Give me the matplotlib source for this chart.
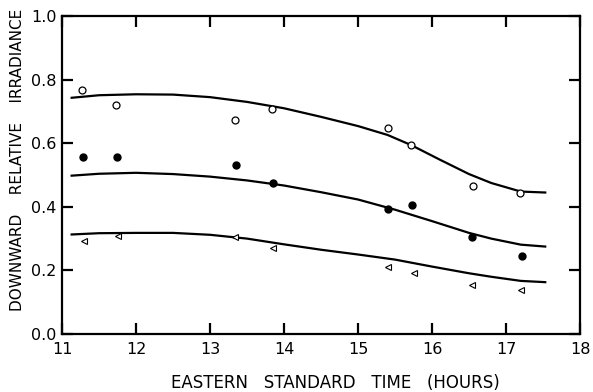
import matplotlib
matplotlib.use("Agg")
import matplotlib.pyplot as plt

# measured points (hours, relative irradiance)
open_x = [11.27, 11.73, 13.34, 13.84, 15.40, 15.72, 16.55, 17.19]
open_y = [0.767, 0.720, 0.673, 0.708, 0.649, 0.594, 0.466, 0.442]

filled_x = [11.28, 11.74, 13.35, 13.85, 15.40, 15.73, 16.54, 17.22]
filled_y = [0.556, 0.556, 0.531, 0.474, 0.393, 0.405, 0.306, 0.244]

tri_x = [11.30, 11.75, 13.34, 13.85, 15.41, 15.76, 16.54, 17.20]
tri_y = [0.292, 0.308, 0.304, 0.269, 0.211, 0.191, 0.155, 0.138]

# fitted curves
upper_x = [11.13, 11.5, 12.0, 12.5, 13.0, 13.5, 14.0, 14.5, 15.0, 15.4, 15.72, 16.1, 16.5, 16.8, 17.2, 17.53]
upper_y = [0.743, 0.751, 0.754, 0.753, 0.745, 0.730, 0.710, 0.683, 0.654, 0.626, 0.594, 0.549, 0.503, 0.475, 0.448, 0.445]
curve_x = [11.13, 11.5, 12.0, 12.5, 13.0, 13.5, 14.0, 14.5, 15.0, 15.5, 16.0, 16.5, 16.8, 17.2, 17.53]
middle_y = [0.498, 0.504, 0.507, 0.503, 0.495, 0.483, 0.467, 0.446, 0.423, 0.391, 0.355, 0.318, 0.300, 0.281, 0.275]
lower_y = [0.313, 0.317, 0.318, 0.318, 0.312, 0.300, 0.282, 0.265, 0.250, 0.234, 0.212, 0.191, 0.180, 0.167, 0.163]

xticks = [11, 12, 13, 14, 15, 16, 17, 18]
yticks = [0.0, 0.2, 0.4, 0.6, 0.8, 1.0]

plt.rcParams['font.family'] = ['DejaVu Sans']

fig = plt.figure(figsize=(5.93, 3.92), dpi=100)
ax = fig.add_axes([0.1046, 0.148, 0.8735, 0.811])

ax.plot(upper_x, upper_y, color='black', lw=1.6)
ax.plot(curve_x, middle_y, color='black', lw=1.6)
ax.plot(curve_x, lower_y, color='black', lw=1.6)

ax.plot(open_x, open_y, 'o', ms=5, mfc='white', mec='black', mew=0.9, ls='none')
ax.plot(filled_x, filled_y, 'o', ms=5, mfc='black', mec='black', ls='none')
ax.plot(tri_x, tri_y, '<', ms=4, mfc='white', mec='black', mew=0.8, ls='none')

ax.set_xlim(11, 18)
ax.set_ylim(0, 1.0)
ax.set_xticks(xticks)
ax.set_xticklabels([str(t) for t in xticks])
ax.set_yticks(yticks)
ax.set_yticklabels(['0.0', '0.2', '0.4', '0.6', '0.8', '1.0'])

ax.tick_params(direction='in', length=8, width=1.6, top=True, right=True,
               labelsize=11.5)
ax.tick_params(axis='y', pad=4)
ax.tick_params(axis='x', pad=6)
for s in ax.spines.values():
    s.set_linewidth(1.6)

ax.set_xlabel('EASTERN   STANDARD   TIME   (HOURS)', fontsize=12)
ax.xaxis.set_label_coords(0.527, -0.127)
ax.set_ylabel('DOWNWARD    RELATIVE    IRRADIANCE', fontsize=11)
ax.yaxis.set_label_coords(-0.071, 0.547)

fig.savefig('out.png', dpi=100)
